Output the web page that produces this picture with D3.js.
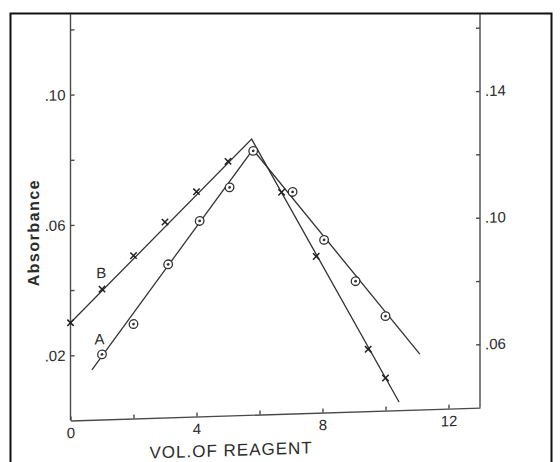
<!DOCTYPE html>
<html><head><meta charset="utf-8">
<script src="https://cdn.jsdelivr.net/npm/d3@7"></script>
<style>
html,body{margin:0;padding:0;background:#fff;}
svg{display:block;}
text{font-family:"Liberation Sans",Arial,sans-serif;fill:#2b2b2b;}
</style></head><body>
<svg id="chart" width="560" height="462"></svg>
<script>
// Absorbance against volume of reagent, two titration series
const volB = [0, 1, 2, 3, 4, 5, 6.7, 7.8, 9.45, 10.0];
const absB = [0.030, 0.040, 0.050, 0.060, 0.069, 0.078, 0.068, 0.048, 0.019, 0.010];
const volA = [1, 2, 3.1, 4.1, 5.05, 5.8, 7.05, 8.05, 9.05, 10.0];
const absA = [0.020, 0.029, 0.047, 0.060, 0.070, 0.081, 0.068, 0.053, 0.040, 0.029];

// Straight lines through each series: start, break point, end
const lineBVol = [0, 5.75, 10.43];
const lineBAbs = [0.030, 0.0846, 0.0025];
const lineAVol = [0.68, 5.79, 11.09];
const lineAAbs = [0.0153, 0.0814, 0.017];

const xTicks = [0, 2, 4, 6, 8, 10, 12];
const xTickLabels = ["0", "", "4", "", "8", "", "12"];
const leftTicks = [0.02, 0.04, 0.06, 0.08, 0.10, 0.12];
const leftTickLabels = [".02", "", ".06", "", ".10", ""];
const rightTicks = [0.06, 0.08, 0.10, 0.12, 0.14, 0.16];
const rightTickLabels = [".06", "", ".10", "", ".14", ""];

const seriesLabels = [
  {text: "A", vol: 0.92, abs: 0.0247},
  {text: "B", vol: 0.98, abs: 0.0450}
];

const svg = d3.select("#chart");
const ink = "#333";
const SKEW = -1.8;            // the printed figure sits on a slight slant
const tanSkew = Math.tan(-SKEW * Math.PI / 180);

const x = d3.scaleLinear([0, 13], [70.5, 480]);
const yL = d3.scaleLinear([0, 0.12], [420.5, 29.5]);
const yR = d3.scaleLinear([0.04, 0.16], [420.5, 40.5]);

// page frame
svg.append("path")
  .attr("d", "M10.5,462 V13.5 H551.5 V462")
  .attr("fill", "none").attr("stroke", "#111").attr("stroke-width", 2);

const g = svg.append("g")
  .attr("transform", `translate(${x(0)},0) skewY(${SKEW}) translate(${-x(0)},0)`);

const topLeft = 14;
const topRight = 14 + (x(13) - x(0)) * tanSkew;

// left axis
const axL = d3.axisLeft(yL).tickValues(leftTicks).tickSizeInner(-4).tickSizeOuter(0)
  .tickPadding(5).tickFormat((d, i) => leftTickLabels[i]);
const gL = g.append("g").attr("transform", `translate(${x(0)},0)`).call(axL);
gL.select(".domain").remove();
gL.append("line").attr("y1", yL(0)).attr("y2", topLeft);

// right axis
const axR = d3.axisRight(yR).tickValues(rightTicks).tickSizeInner(-4).tickSizeOuter(0)
  .tickPadding(5).tickFormat((d, i) => rightTickLabels[i]);
const gR = g.append("g").attr("transform", `translate(${x(13)},0)`).call(axR);
gR.select(".domain").remove();
gR.append("line").attr("y1", yR(0.04)).attr("y2", topRight);

// bottom axis
const axB = d3.axisBottom(x).tickValues(xTicks).tickSizeInner(-4).tickSizeOuter(0)
  .tickPadding(7).tickFormat((d, i) => xTickLabels[i]);
const gB = g.append("g").attr("transform", `translate(0,${yL(0)})`).call(axB);

[gL, gR, gB].forEach(a => {
  a.selectAll("line, path").attr("stroke", "#4a4a4a").attr("stroke-width", 1.4);
  a.selectAll("text").attr("fill", "#2b2b2b").style("font-size", "15px")
    .style("font-family", '"Liberation Sans",Arial,sans-serif');
});

// axis titles
g.append("text")
  .attr("transform", `translate(39,${yL(0.058)}) rotate(-90)`)
  .attr("text-anchor", "middle")
  .style("font-size", "16px").style("font-weight", "bold").style("letter-spacing", "1.5px")
  .text("Absorbance");

g.append("text")
  .attr("x", x(5.1)).attr("y", 461)
  .attr("text-anchor", "middle")
  .style("font-size", "17px").style("letter-spacing", "1px")
  .text("VOL.OF REAGENT");

// fitted lines
const line = d3.line().x(d => x(d[0])).y(d => yL(d[1]));
const linesData = [
  d3.zip(lineAVol, lineAAbs),
  d3.zip(lineBVol, lineBAbs)
];
g.selectAll("path.fit").data(linesData).join("path")
  .attr("class", "fit")
  .attr("d", line)
  .attr("fill", "none").attr("stroke", ink).attr("stroke-width", 1.3)
  .attr("stroke-linejoin", "miter");

// series B: crosses
const cs = 3.2;
g.selectAll("path.cross").data(d3.zip(volB, absB)).join("path")
  .attr("class", "cross")
  .attr("d", d => {
    const cx = x(d[0]), cy = yL(d[1]);
    return `M${cx - cs},${cy - cs}L${cx + cs},${cy + cs}M${cx - cs},${cy + cs}L${cx + cs},${cy - cs}`;
  })
  .attr("stroke", "#222").attr("stroke-width", 1.5);

// series A: dotted circles
const gA = g.selectAll("g.circ").data(d3.zip(volA, absA)).join("g")
  .attr("class", "circ")
  .attr("transform", d => `translate(${x(d[0])},${yL(d[1])})`);
gA.append("circle").attr("r", 4.3).attr("fill", "#fff").attr("stroke", "#333").attr("stroke-width", 1.3);
gA.append("circle").attr("r", 1.4).attr("fill", "#333");

// series labels
g.selectAll("text.series").data(seriesLabels).join("text")
  .attr("class", "series")
  .attr("x", d => x(d.vol)).attr("y", d => yL(d.abs))
  .attr("text-anchor", "middle").attr("dy", "0.35em")
  .style("font-size", "15px")
  .text(d => d.text);
</script>
</body></html>
